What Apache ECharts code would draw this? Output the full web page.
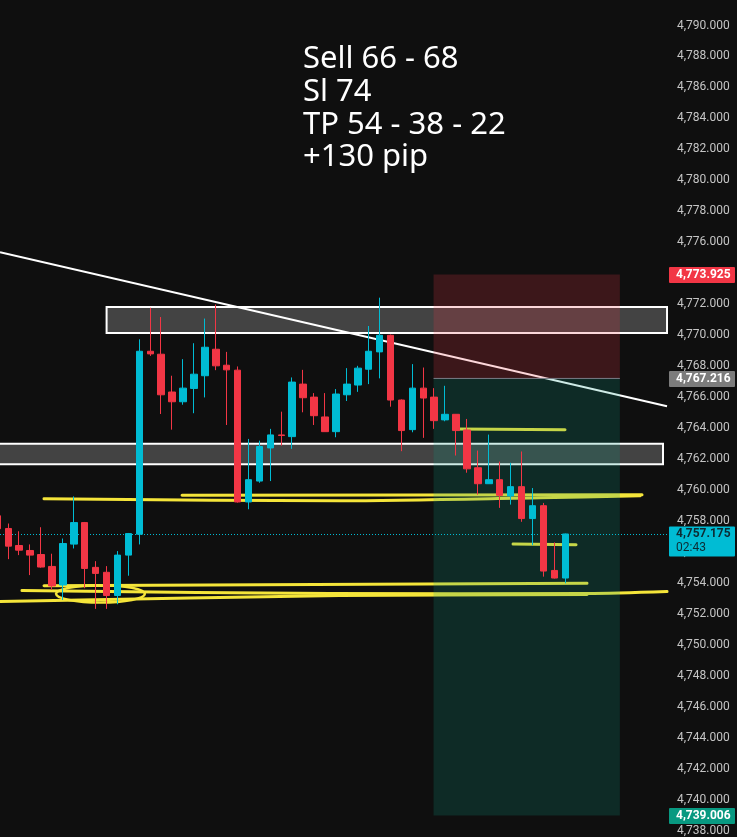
<!DOCTYPE html>
<html><head><meta charset="utf-8">
<script src="https://cdn.jsdelivr.net/npm/echarts@6/dist/echarts.min.js"></script>
<style>html,body{margin:0;padding:0;background:#0f0f0f;overflow:hidden}#c{width:737px;height:837px}</style>
</head><body><div id="c"></div>
<script>
// ---- data ----
const candleIndex = [0,1,2,3,4,5,6,7,8,9,10,11,12,13,14,15,16,17,18,19,20,21,22,23,24,25,26,27,28,29,30,31,32,33,34,35,36,37,38,39,40,41,42,43,44,45,46,47,48,49,50,51,52];
const opens  = [4758.35,4757.53,4756.43,4756.11,4755.85,4755.08,4753.88,4756.52,4757.91,4755.02,4754.70,4753.20,4755.81,4757.16,4768.97,4768.78,4766.34,4765.71,4766.57,4767.39,4769.10,4768.07,4767.75,4759.24,4760.59,4762.73,4763.57,4763.46,4766.85,4766.01,4764.73,4763.78,4766.16,4766.79,4767.81,4768.93,4770.00,4765.82,4763.91,4766.59,4766.01,4764.54,4764.90,4763.89,4761.45,4760.42,4760.68,4759.63,4760.23,4758.17,4759.00,4754.82,4754.33];
const closes = [4757.51,4756.39,4756.13,4755.81,4755.04,4753.82,4756.56,4757.91,4754.95,4754.63,4753.20,4755.81,4757.20,4768.97,4768.80,4766.16,4765.71,4766.59,4767.49,4769.23,4768.03,4767.77,4759.24,4760.68,4762.82,4763.57,4763.53,4766.98,4765.97,4764.81,4763.78,4766.21,4766.85,4767.88,4768.97,4770.00,4765.82,4763.85,4766.59,4765.95,4764.49,4764.90,4763.85,4761.38,4760.42,4760.68,4759.67,4760.23,4758.17,4759.00,4754.78,4754.33,4757.175];
const lows   = [4757.30,4755.55,4755.81,4754.52,4755.00,4753.56,4752.91,4756.24,4753.67,4752.34,4752.34,4752.64,4754.48,4756.50,4768.67,4764.92,4763.91,4765.52,4764.97,4765.99,4767.75,4764.21,4759.20,4758.77,4760.48,4760.59,4762.88,4762.67,4765.03,4764.21,4763.78,4763.42,4765.76,4766.35,4766.85,4767.22,4765.39,4762.52,4763.74,4763.38,4763.96,4764.45,4762.24,4761.13,4759.71,4760.40,4758.86,4759.07,4757.96,4756.45,4754.42,4754.30,4753.99];
const highs  = [4758.50,4757.85,4757.35,4756.50,4757.61,4755.90,4756.88,4759.60,4757.95,4755.42,4755.10,4756.07,4757.24,4769.74,4771.78,4771.18,4767.39,4768.46,4769.49,4771.08,4771.99,4768.93,4767.99,4763.31,4763.20,4763.96,4765.07,4767.28,4767.77,4766.27,4766.27,4766.53,4767.88,4768.03,4770.60,4772.43,4770.05,4765.86,4768.14,4767.92,4766.59,4766.74,4764.92,4764.60,4762.56,4763.59,4761.85,4761.77,4762.50,4760.14,4759.18,4756.63,4757.20];

const yMin = 4738, yMax = 4790, yStep = 2;
const stopPrice = 4773.925, entryPrice = 4767.216, targetPrice = 4739.006, lastPrice = 4757.175;
const countdown = '02:43';
const positionStart = 39.94, positionEnd = 57.0;
const trendLine = [[0.24, 4775.36], [61.32, 4765.42]];
const zoneX0 = [10.0, -1.0];
const zoneX1 = [61.32, 60.95];
const zoneLow = [4770.15, 4761.68];
const zoneHigh = [4771.83, 4763.00];
const yellowStrokes = [
  [[4.27,4759.45],[31.37,4759.32],[49.69,4759.51],[58.85,4759.64]],
  [[16.91,4759.67],[59.03,4759.70]],
  [[4.27,4753.84],[53.99,4754.00]],
  [[2.25,4753.52],[30.46,4753.33],[54.0,4753.33],[61.32,4753.46]],
  [[-0.5,4752.81],[31.37,4753.20],[54.0,4753.26]],
  [[42.09,4763.95],[51.98,4763.91]],
  [[47.22,4756.53],[52.99,4756.48]]
];
const loopCenter = [9.44, 4753.31];
const loopRadius = [4.07, 0.56];
const noteLines = ['Sell 66 - 68', 'Sl 74', 'TP 54 - 38 - 22', '+130 pip'];

// ---- helpers ----
function fmt(v){
  const s = Number(v).toFixed(3);
  const p = s.split('.');
  return p[0].replace(/\B(?=(\d{3})+(?!\d))/g, ',') + '.' + p[1];
}
const BG = '#0f0f0f', UP = '#00bcd4', DOWN = '#f23645';

const chart = echarts.init(document.getElementById('c'), null, {renderer:'canvas'});
const source = candleIndex.map((k,i)=>[k, opens[i], closes[i], lows[i], highs[i]]);

const option = {
  backgroundColor: BG,
  animation: false,
  grid: {left: 0, right: 68, top: 25.5, bottom: 3.9, containLabel: false},
  xAxis: {type:'value', min: 0.24, max: 61.5, show: false},
  yAxis: {
    type:'value', position:'right', min: yMin, max: yMax, interval: yStep, scale: true,
    axisLine:{show:false}, axisTick:{show:false}, splitLine:{show:false},
    axisLabel:{color:'#c5c5c5', fontSize:12, fontFamily:'Roboto', margin:8, padding:[0,0,3,0], formatter: fmt, showMinLabel:true, showMaxLabel:true}
  },
  dataset: {source: source},
  series: [
    { // horizontal zones
      type:'custom', z: 2, clip: true,
      data: zoneX0.map((x,i)=>[x, zoneX1[i], zoneLow[i], zoneHigh[i]]),
      renderItem: function(params, api){
        const p0 = api.coord([api.value(0), api.value(3)]);
        const p1 = api.coord([api.value(1), api.value(2)]);
        return {type:'rect', shape:{x:p0[0], y:p0[1], width:p1[0]-p0[0], height:p1[1]-p0[1]},
          style:{fill:'rgba(255,255,255,0.22)', stroke:'#ffffff', lineWidth:2}};
      },
      encode:{x:[0,1], y:[2,3]}
    },
    { // yellow strokes
      type:'custom', z: 2, clip: true,
      data: yellowStrokes.map((s,i)=>[s[0][0], s[0][1], i]),
      renderItem: function(params, api){
        const s = yellowStrokes[api.value(2)];
        return {type:'polyline', shape:{points: s.map(p=>api.coord(p)), smooth: 0.3},
          style:{stroke:'#f5e53a', lineWidth:3, fill:null, lineCap:'round', lineJoin:'round'}};
      },
      encode:{x:0, y:1}
    },
    { // loop
      type:'custom', z: 2, clip: true,
      data: [[loopCenter[0], loopCenter[1], loopRadius[0], loopRadius[1]]],
      renderItem: function(params, api){
        const c = api.coord([api.value(0), api.value(1)]);
        const sz = api.size([api.value(2), api.value(3)]);
        return {type:'ellipse', shape:{cx:c[0], cy:c[1], rx:sz[0], ry:sz[1]},
          style:{stroke:'#f5e53a', lineWidth:2.5, fill:null}};
      },
      encode:{x:0, y:1}
    },
    { // trend line
      type:'custom', z: 3, clip: true,
      data: [[trendLine[0][0], trendLine[0][1], trendLine[1][0], trendLine[1][1]]],
      renderItem: function(params, api){
        const a = api.coord([api.value(0), api.value(1)]);
        const b = api.coord([api.value(2), api.value(3)]);
        return {type:'line', shape:{x1:a[0], y1:a[1], x2:b[0], y2:b[1]}, style:{stroke:'#ffffff', lineWidth:2}};
      },
      encode:{x:[0,2], y:[1,3]}
    },
    { // short position box
      type:'custom', z: 4, clip: true,
      data: [[positionStart, positionEnd, stopPrice, entryPrice, targetPrice]],
      renderItem: function(params, api){
        const x0 = api.value(0), x1 = api.value(1);
        const s = api.coord([x0, api.value(2)]);
        const e = api.coord([x1, api.value(3)]);
        const t = api.coord([x1, api.value(4)]);
        return {type:'group', children:[
          {type:'rect', shape:{x:s[0], y:s[1], width:e[0]-s[0], height:e[1]-s[1]}, style:{fill:'rgba(242,54,69,0.2)'}},
          {type:'rect', shape:{x:s[0], y:e[1], width:e[0]-s[0], height:t[1]-e[1]}, style:{fill:'rgba(8,153,129,0.2)'}},
          {type:'line', shape:{x1:s[0], y1:e[1], x2:e[0], y2:e[1]}, style:{stroke:'#7a7d86', lineWidth:1}}
        ]};
      },
      encode:{x:[0,1], y:[2,3,4]}
    },
    {
      type:'candlestick', z: 10, barWidth: 7, datasetIndex: 0,
      encode:{x:0, y:[1,2,3,4]},
      itemStyle:{color:UP, color0:DOWN, borderColor:UP, borderColor0:DOWN, borderWidth:1},
      markLine:{
        silent:true, symbol:['none','none'], animation:false,
        lineStyle:{color:UP, type:[1,2], width:1},
        label:{show:false},
        data:[{yAxis:lastPrice}]
      }
    }
  ]
};
chart.setOption(option);

// price tags & note text
function py(v){ return chart.convertToPixel({yAxisIndex:0}, v); }
function tag(v, bg, color, extra){
  const cy = py(v) + 0.5;
  const h = extra ? 30 : 16;
  const children = [
    {type:'rect', zlevel:1, z:100, shape:{x:669, y:cy-8, width:66, height:h, r:1}, style:{fill:bg}},
    {type:'text', zlevel:1, z:101, x:676, y:cy, style:{text:fmt(v), fill:color, font:'bold 12px Roboto', verticalAlign:'middle'}}
  ];
  if (extra) children.push({type:'text', zlevel:1, z:101, x:676, y:cy+14, style:{text:extra, fill:color, font:'12px Roboto', verticalAlign:'middle'}});
  return children;
}
chart.setOption({graphic:[].concat(
  tag(stopPrice, '#f23645', '#ffffff'),
  tag(entryPrice, '#7c7c7c', '#ffffff'),
  tag(lastPrice, '#00bcd4', '#0d2b33', countdown),
  tag(targetPrice, '#089981', '#ffffff'),
  [{type:'text', zlevel:1, z:101, x:303, y:43, style:{text:noteLines.join('\n'), fill:'#ffffff', font:'31px "Noto Sans"', lineHeight:32.7, verticalAlign:'top'}}]
)});
</script>
</body></html>
